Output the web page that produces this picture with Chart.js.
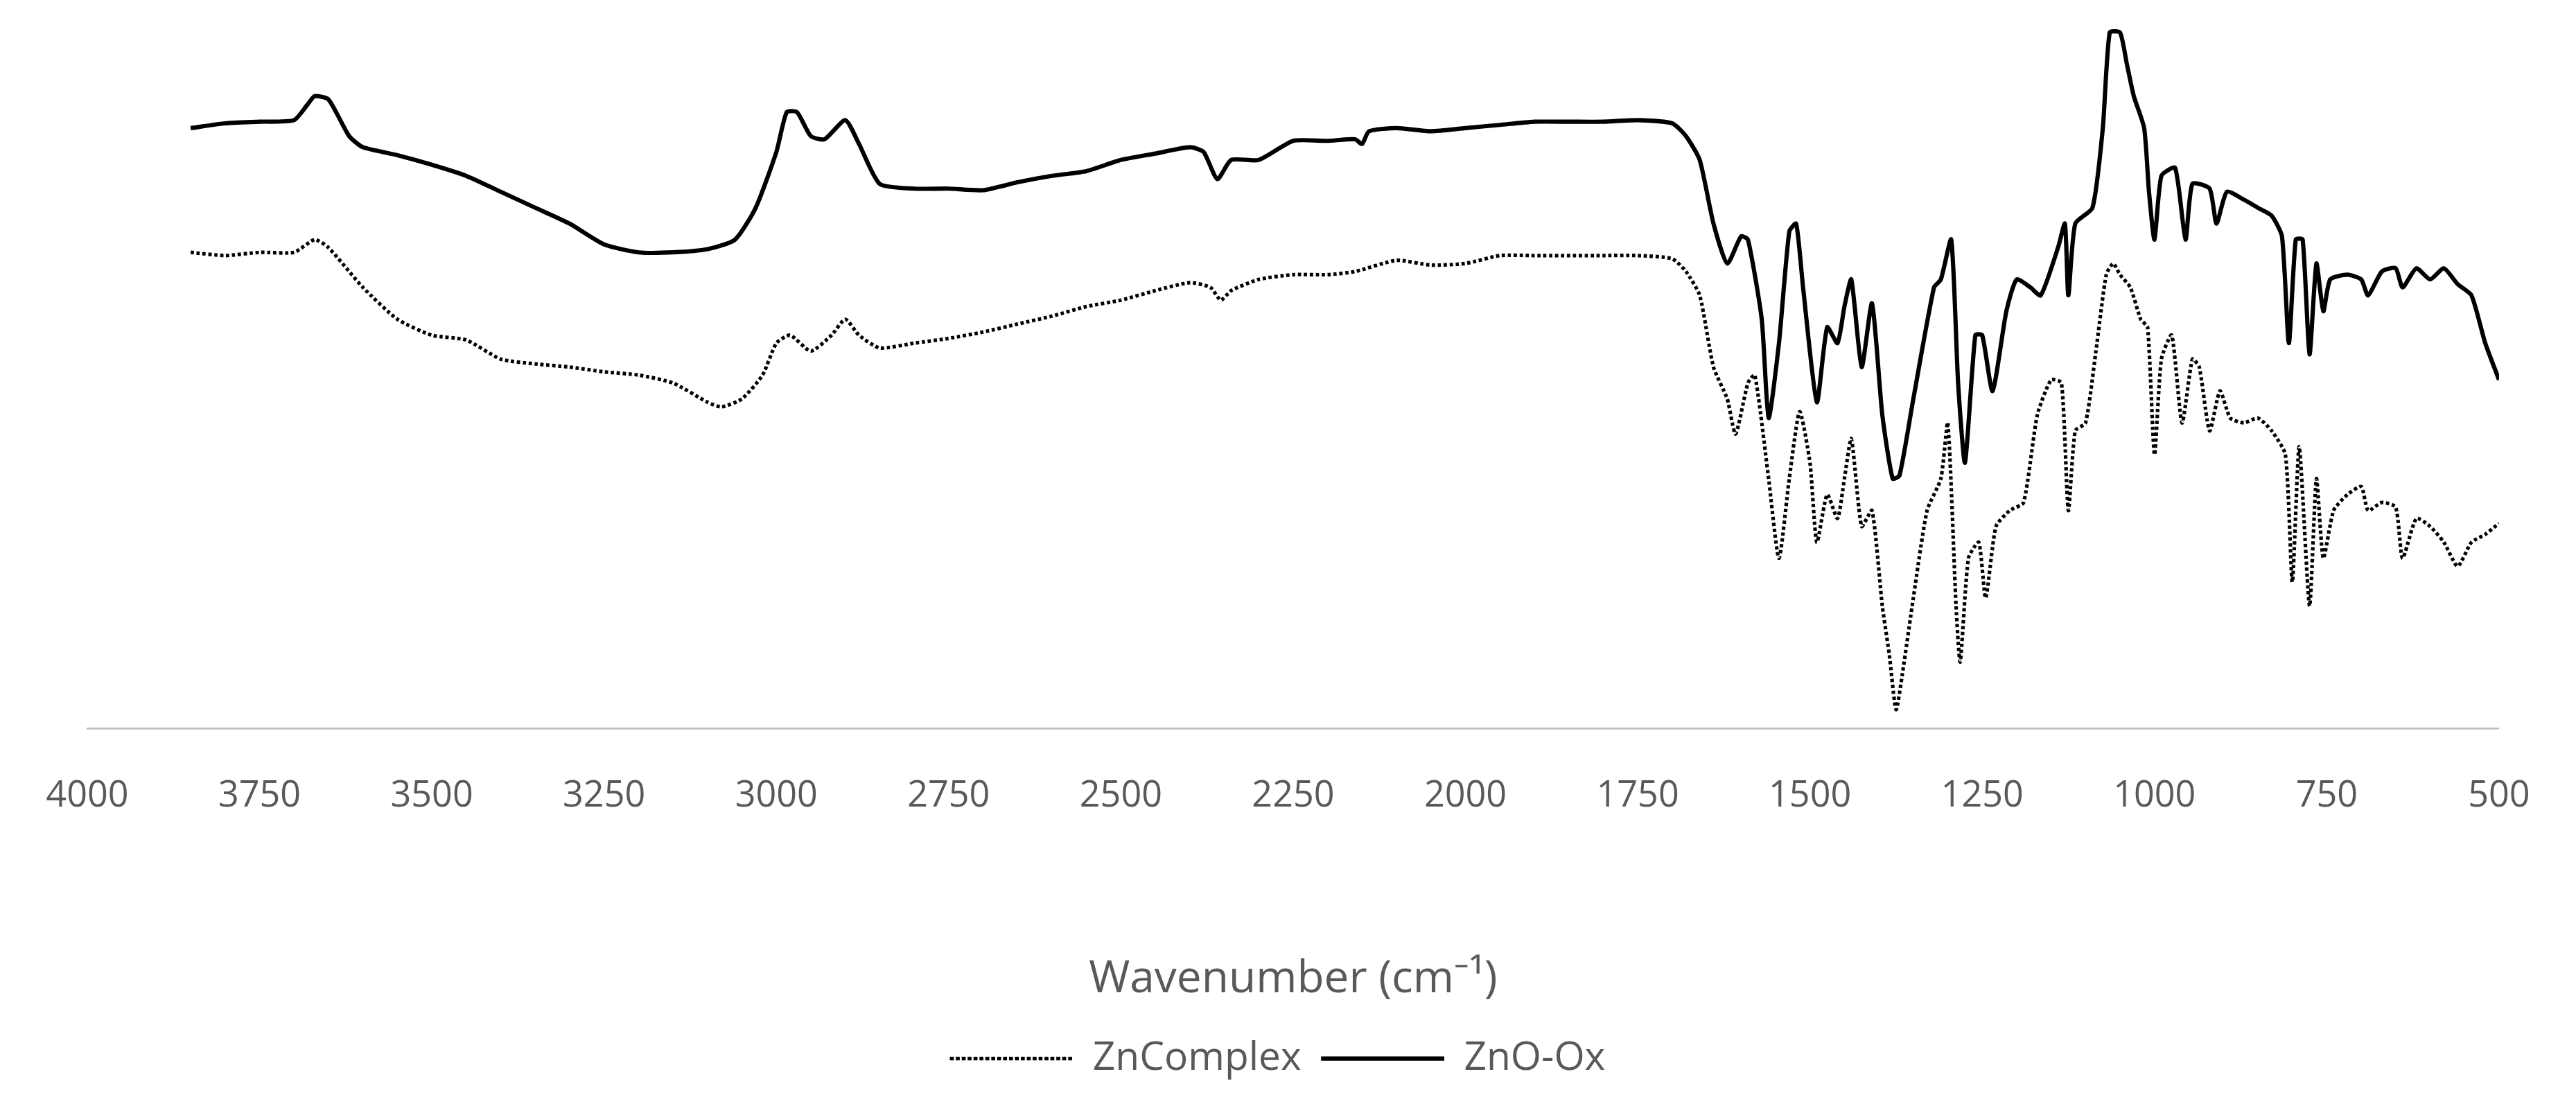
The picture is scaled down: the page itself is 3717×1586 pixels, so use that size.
<!DOCTYPE html>
<html>
<head>
<meta charset="utf-8">
<script src="https://cdn.jsdelivr.net/npm/chart.js@4/dist/chart.umd.min.js"></script>
<style>
  html, body { margin: 0; padding: 0; background: #fff; }
  #wrap { width: 3717px; height: 1586px; }
</style>
</head>
<body>
<div id="wrap"><canvas id="irChart" width="3717" height="1586"></canvas></div>
<script>
// x tick labels
const xTicks = [4000, 3750, 3500, 3250, 3000, 2750, 2500, 2250, 2000, 1750, 1500, 1250, 1000, 750, 500];

// ZnComplex (dotted)
const complexWn = [3850,3800,3750,3700,3670,3650,3600,3550,3500,3450,3400,3350,3300,3250,3200,3150,3100,3080,3050,3020,3000,2980,2950,2920,2900,2880,2850,2800,2750,2700,2650,2600,2550,2500,2450,2400,2370,2355,2340,2300,2250,2200,2160,2100,2050,2000,1950,1900,1800,1750,1700,1680,1660,1640,1620,1608,1590,1580,1560,1545,1530,1515,1500,1490,1475,1460,1450,1440,1425,1410,1395,1385,1375,1365,1350,1330,1310,1300,1288,1282,1270,1255,1245,1230,1210,1190,1170,1150,1135,1125,1115,1100,1085,1070,1060,1050,1035,1020,1010,1000,990,975,960,945,935,920,905,890,870,850,830,810,800,790,775,765,755,740,720,700,690,670,650,640,620,600,580,560,540,520,500];
const complexT = [299,297,299,299,307,302,277,257,247,244,232,229,227,224,222,217,205,202,207,222,242,247,237,247,257,247,239,242,245,249,254,259,265,269,275,280,277,269,275,282,285,285,287,294,291,292,297,297,297,297,295,287,272,227,207,185,217,222,157,107,157,199,167,117,147,132,157,182,127,137,77,47,12,37,82,137,157,192,77,42,107,117,82,127,137,142,197,219,217,137,187,192,237,285,292,285,277,257,252,172,232,247,192,232,227,187,212,195,192,195,187,172,92,177,77,157,107,137,147,152,137,142,139,107,132,127,117,102,117,122,129];

// ZnO-Ox (solid)
const oxWn = [3850,3800,3750,3700,3680,3670,3650,3620,3600,3550,3500,3450,3400,3350,3300,3250,3200,3150,3100,3060,3030,3000,2985,2970,2950,2930,2900,2880,2850,2800,2750,2700,2650,2600,2550,2500,2450,2400,2380,2360,2340,2300,2250,2200,2160,2150,2140,2100,2050,2000,1950,1900,1850,1800,1750,1700,1680,1660,1640,1620,1600,1590,1570,1560,1545,1530,1520,1510,1490,1475,1460,1450,1440,1425,1410,1395,1380,1370,1350,1320,1310,1295,1285,1275,1260,1250,1235,1215,1200,1180,1165,1140,1130,1125,1115,1090,1075,1065,1050,1040,1030,1015,1008,1000,990,970,955,945,920,910,895,870,850,830,815,805,795,785,775,765,755,745,720,700,690,670,650,640,620,600,580,560,540,520,500];
const oxT = [377,380,381,382,392,397,395,372,365,360,354,347,337,327,317,304,299,299,301,307,327,362,387,387,372,370,382,367,342,339,339,338,343,347,350,357,361,365,362,345,357,357,369,369,370,367,375,377,375,377,379,381,381,381,382,380,372,357,317,292,309,307,257,195,242,312,317,277,205,252,242,265,282,227,267,197,157,159,207,277,282,307,217,167,247,247,212,262,282,277,272,302,317,272,317,327,377,437,437,417,397,377,337,307,347,352,307,342,339,317,337,332,327,322,309,242,307,307,235,292,262,282,285,282,272,287,289,277,289,282,289,279,272,242,219];

const toPts = (xs, ys) => xs.map((x, i) => ({ x: x, y: ys[i] }));

const S = 2.37;
const fontFam = "'Open Sans', 'Noto Sans', sans-serif";

new Chart(document.getElementById("irChart"), {
  type: "line",
  data: {
    datasets: [
      {
        label: "ZnComplex",
        data: toPts(complexWn, complexT),
        borderColor: "#000",
        borderWidth: 2.2 * S,
        borderDash: [2 * S, 1.6 * S],
        pointRadius: 0,
        tension: 0.2,
        fill: false
      },
      {
        label: "ZnO-Ox",
        data: toPts(oxWn, oxT),
        borderColor: "#000",
        borderWidth: 2.6 * S,
        pointRadius: 0,
        tension: 0.2,
        fill: false
      }
    ]
  },
  options: {
    responsive: false,
    animation: false,
    layout: { padding: { left: 60, right: 90, top: 40, bottom: 20 } },
    plugins: {
      legend: {
        position: "bottom",
        labels: {
          color: "#595959",
          font: { family: fontFam, size: 24 * S },
          boxWidth: 75 * S,
          boxHeight: 0,
          padding: 12 * S
        }
      },
      tooltip: { enabled: false }
    },
    scales: {
      x: {
        type: "linear",
        reverse: true,
        min: 500,
        max: 4000,
        afterBuildTicks: axis => { axis.ticks = xTicks.map(v => ({ value: v })); },
        grid: { display: false, drawTicks: false },
        border: { color: "#bfbfbf", width: 1.2 * S },
        ticks: {
          color: "#595959",
          font: { family: fontFam, size: 22 * S },
          padding: 28 * S,
          maxRotation: 0,
          autoSkip: false,
          callback: v => String(v)
        },
        title: {
          display: true,
          text: "Wavenumber (cm\u207B\u00B9)",
          color: "#595959",
          font: { family: fontFam, size: 27 * S },
          padding: { top: 54 * S, bottom: 8 * S }
        }
      },
      y: {
        display: false,
        min: 0,
        max: 440
      }
    }
  }
});
</script>
</body>
</html>
